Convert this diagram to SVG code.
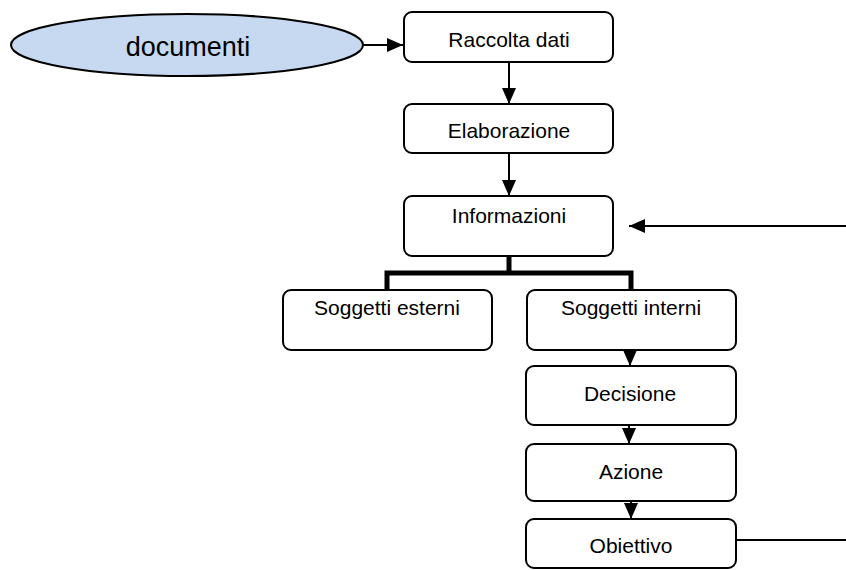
<svg xmlns="http://www.w3.org/2000/svg" width="846" height="570" viewBox="0 0 846 570">
  <style>
    .box { fill: #ffffff; stroke: #000000; stroke-width: 2; }
    .lbl { font-family: "Liberation Sans", Arial, sans-serif; font-size: 21px; fill: #000000; text-anchor: middle; }
    .line { fill: none; stroke: #000000; stroke-width: 2; }
    .thick { fill: none; stroke: #000000; stroke-width: 5; }
  </style>
  <defs>
    <marker id="arrow" viewBox="0 0 16 14" refX="16" refY="7" markerWidth="16" markerHeight="14" markerUnits="userSpaceOnUse" orient="auto">
      <path d="M0,0 L16,7 L0,14 Z" fill="#000000"/>
    </marker>
  </defs>
  <rect width="846" height="570" fill="#ffffff"/>

  <g id="connectors">
    <line class="line" x1="363" y1="45" x2="403" y2="45" marker-end="url(#arrow)"/>
    <line class="line" x1="509" y1="62" x2="509" y2="104" marker-end="url(#arrow)"/>
    <line class="line" x1="509" y1="153" x2="509" y2="196" marker-end="url(#arrow)"/>
    <line class="line" x1="846" y1="226" x2="629" y2="226" marker-end="url(#arrow)"/>
    <polyline class="thick" points="509,256 509,273"/>
    <polyline class="thick" points="387,290 387,273 631,273 631,290"/>
    <line class="line" x1="630" y1="350" x2="630" y2="366" marker-end="url(#arrow)"/>
    <line class="line" x1="629" y1="425" x2="629" y2="444" marker-end="url(#arrow)"/>
    <line class="line" x1="631" y1="501" x2="631" y2="519" marker-end="url(#arrow)"/>
    <line class="line" x1="736" y1="540" x2="846" y2="540"/>
  </g>

  <g id="documenti">
    <ellipse cx="187" cy="45" rx="176" ry="31" fill="#c6d9f1" stroke="#000000" stroke-width="2"/>
    <text class="lbl" x="188" y="56" style="font-size:27px">documenti</text>
  </g>

  <g id="raccolta-dati">
    <rect class="box" x="404" y="12" width="209" height="50" rx="8"/>
    <text class="lbl" x="509" y="47">Raccolta dati</text>
  </g>

  <g id="elaborazione">
    <rect class="box" x="404" y="104" width="209" height="49" rx="8"/>
    <text class="lbl" x="509" y="138">Elaborazione</text>
  </g>

  <g id="informazioni">
    <rect class="box" x="404" y="196" width="209" height="60" rx="8"/>
    <text class="lbl" x="509" y="223">Informazioni</text>
  </g>

  <g id="soggetti-esterni">
    <rect class="box" x="283" y="290" width="209" height="60" rx="8"/>
    <text class="lbl" x="387" y="315">Soggetti esterni</text>
  </g>

  <g id="soggetti-interni">
    <rect class="box" x="527" y="290" width="209" height="60" rx="8"/>
    <text class="lbl" x="631" y="315">Soggetti interni</text>
  </g>

  <g id="decisione">
    <rect class="box" x="526" y="366" width="210" height="59" rx="8"/>
    <text class="lbl" x="630" y="401">Decisione</text>
  </g>

  <g id="azione">
    <rect class="box" x="526" y="444" width="210" height="57" rx="8"/>
    <text class="lbl" x="631" y="479">Azione</text>
  </g>

  <g id="obiettivo">
    <rect class="box" x="526" y="519" width="210" height="49" rx="8"/>
    <text class="lbl" x="631" y="553">Obiettivo</text>
  </g>
</svg>
